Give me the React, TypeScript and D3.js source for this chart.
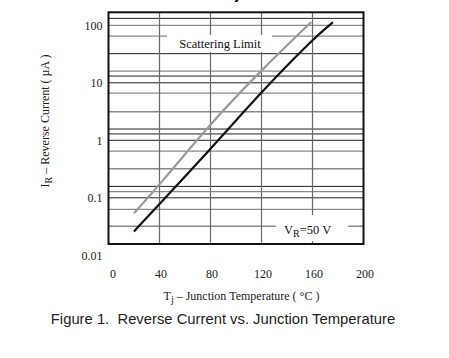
import React from "react";
import * as d3 from "d3";

// ---- data ----
const xTicks = [0, 40, 80, 120, 160, 200];
const xGridLines = [40, 80, 120, 160];
const yTicks = [100, 10, 1, 0.1, 0.01];
const yTickLabels = ["100", "10", "1", "0.1", "0.01"];
const gridBlack = [132, 32.1, 13.1, 10, 1.57, 1.29, 1, 0.158, 0.1];
const gridGray = [100, 65, 16, 6.6, 3.14, 0.65, 0.32, 0.128, 0.063, 0.032];

const scatterT = [20, 40, 80, 120, 159];
const scatterI = [0.054, 0.167, 1.98, 16.7, 114];
const typicalT = [20, 40, 80, 120, 160, 176];
const typicalI = [0.026, 0.078, 0.7, 7.0, 57, 113];

const W = 449;
const H = 358;
const left = 108.5;
const right = 363.5;
const top = 12.3;
const bottom = 244;

export default function App() {
  const x = d3.scaleLinear().domain([0, 200]).range([left, right]);
  const y = d3.scaleLog().domain([1, 10]).range([140.3, 82.8]);

  const line = d3
    .line<[number, number]>()
    .x((d) => x(d[0]))
    .y((d) => y(d[1]))
    .curve(d3.curveBasis);

  const scatterPts = scatterT.map((t, i) => [t, scatterI[i]] as [number, number]);
  const typicalPts = typicalT.map((t, i) => [t, typicalI[i]] as [number, number]);

  const serif = "'Liberation Serif', 'Times New Roman', serif";
  const sans = "'Liberation Sans', Arial, sans-serif";

  return (
    <svg
      width={W}
      height={H}
      style={{ position: "absolute", left: 0, top: 0, background: "#fff" }}
    >
      <rect x={0} y={0} width={W} height={H} fill="#fff" />
      <text x={234} y={-1} fontFamily={sans} fontWeight="bold" fontSize={14} fill="#000">
        y
      </text>
      {/* horizontal grid */}
      {gridGray.map((v, i) => (
        <line key={"g" + i} x1={left} x2={right} y1={y(v)} y2={y(v)} stroke="#8a8a8a" strokeWidth={1.3} />
      ))}
      {gridBlack.map((v, i) => (
        <line key={"b" + i} x1={left} x2={right} y1={y(v)} y2={y(v)} stroke="#222" strokeWidth={1} />
      ))}
      {/* vertical grid */}
      {xGridLines.map((t, i) => (
        <line key={"v" + i} x1={x(t)} x2={x(t)} y1={top} y2={bottom} stroke="#6a6a6a" strokeWidth={1.2} />
      ))}
      {/* annotation boxes */}
      <rect x={167} y={35} width={105} height={17} fill="#fff" />
      <text x={220} y={48} textAnchor="middle" fontFamily={serif} fontSize={12.5} fill="#111">
        Scattering Limit
      </text>
      <rect x={276} y={215} width={72} height={26} fill="#fff" />
      <text x={284} y={234} fontFamily={serif} fontSize={12.5} fill="#111">
        V
        <tspan fontSize={10} dy={3}>R</tspan>
        <tspan dy={-3}>=50 V</tspan>
      </text>
      {/* curves */}
      <path d={line(scatterPts) || ""} fill="none" stroke="#9a9a9a" strokeWidth={2.2} />
      <path d={line(typicalPts) || ""} fill="none" stroke="#111" strokeWidth={2.2} />
      {/* frame */}
      <rect x={left} y={top} width={right - left} height={bottom - top} fill="none" stroke="#111" strokeWidth={2} />
      {/* y tick labels */}
      {yTicks.map((v, i) => (
        <text key={"yt" + i} x={102.5} y={y(v)} dy="0.35em" textAnchor="end" fontFamily={serif} fontSize={12} fill="#222">
          {yTickLabels[i]}
        </text>
      ))}
      {/* x tick labels */}
      {xTicks.map((t, i) => (
        <text key={"xt" + i} x={x(t) + (t === 0 ? 4.5 : 1.5)} y={278} textAnchor="middle" fontFamily={serif} fontSize={12} fill="#222">
          {t}
        </text>
      ))}
      {/* axis titles */}
      <text x={241.5} y={300} textAnchor="middle" fontFamily={serif} fontSize={12} fill="#222">
        T<tspan fontSize={10} dy={3}>j</tspan>
        <tspan dy={-3}> – Junction Temperature ( °C )</tspan>
      </text>
      <text
        transform="translate(49,121) rotate(-90)"
        textAnchor="middle"
        fontFamily={serif}
        fontSize={12}
        fill="#222"
      >
        I<tspan fontSize={10} dy={3}>R</tspan>
        <tspan dy={-3}> – Reverse Current ( µA )</tspan>
      </text>
      <text x={223} y={324} textAnchor="middle" fontFamily={sans} fontSize={14.8} fill="#222" style={{ whiteSpace: "pre" }}>
        {"Figure 1.\u00a0 Reverse Current vs. Junction Temperature"}
      </text>
    </svg>
  );
}
